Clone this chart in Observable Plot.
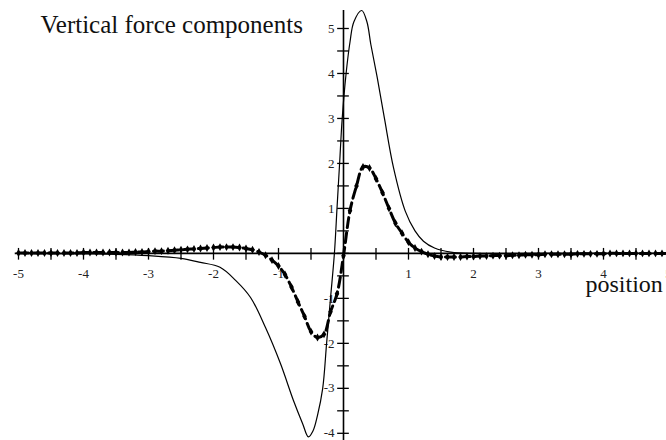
<!DOCTYPE html>
<html>
<head>
<meta charset="utf-8">
<script src="https://cdn.jsdelivr.net/npm/d3@7"></script>
<script src="https://cdn.jsdelivr.net/npm/@observablehq/plot@0.6"></script>
<style>
  html, body { margin: 0; padding: 0; background: #fff; overflow: hidden; }
</style>
</head>
<body>
<div id="chart"></div>
<script>
// Total vertical force (solid curve)
const totalX = [-5, -4, -3.5, -3, -2.5, -2.2, -1.9, -1.66, -1.43, -1.2, -0.97, -0.77, -0.63, -0.54, -0.47, -0.4, -0.32, -0.26, -0.2, -0.14, -0.1, -0.06, -0.02, 0.04, 0.1, 0.16, 0.28, 0.36, 0.42, 0.52, 0.63, 0.77, 0.95, 1.1, 1.23, 1.4, 1.65, 2, 3, 4, 5];
const totalY = [0, -0.01, -0.02, -0.05, -0.11, -0.2, -0.31, -0.6, -0.98, -1.65, -2.45, -3.27, -3.78, -4.08, -3.95, -3.6, -3.0, -2.0, -1.0, 0, 1.0, 2.0, 3.0, 4.0, 4.7, 5.15, 5.4, 5.15, 4.65, 3.9, 3.0, 1.9, 0.94, 0.5, 0.27, 0.12, 0.03, 0, 0, 0, 0];

// Sampled component (dotted curve), one sample every 0.1
const compX = [
  -5.0, -4.9, -4.8, -4.7, -4.6, -4.5, -4.4, -4.3, -4.2, -4.1,
  -4.0, -3.9, -3.8, -3.7, -3.6, -3.5, -3.4, -3.3, -3.2, -3.1,
  -3.0, -2.9, -2.8, -2.7, -2.6, -2.5, -2.4, -2.3, -2.2, -2.1,
  -2.0, -1.9, -1.8, -1.7, -1.6, -1.5, -1.4, -1.3, -1.2, -1.1,
  -1.0, -0.9, -0.8, -0.7, -0.6, -0.5, -0.4, -0.3, -0.2, -0.1,
   0.0,  0.1,  0.2,  0.3,  0.4,  0.5,  0.6,  0.7,  0.8,  0.9,
   1.0,  1.1,  1.2,  1.3,  1.4,  1.5,  1.6,  1.7,  1.8,  1.9,
   2.0,  2.1,  2.2,  2.3,  2.4,  2.5,  2.6,  2.7,  2.8,  2.9,
   3.0,  3.1,  3.2,  3.3,  3.4,  3.5,  3.6,  3.7,  3.8,  3.9,
   4.0,  4.1,  4.2,  4.3,  4.4,  4.5,  4.6,  4.7,  4.8,  4.9,
   5.0
];
const compY = [
  0.01, 0.01, 0.01, 0.01, 0.01, 0.01, 0.01, 0.01, 0.01, 0.01,
  0.02, 0.02, 0.02, 0.02, 0.02, 0.02, 0.02, 0.02, 0.03, 0.03,
  0.04, 0.05, 0.05, 0.06, 0.07, 0.08, 0.09, 0.10, 0.11, 0.12,
  0.13, 0.14, 0.14, 0.14, 0.13, 0.11, 0.08, 0.03, -0.04, -0.15,
  -0.28, -0.47, -0.75, -1.08, -1.40, -1.74, -1.87, -1.80, -1.30, -0.90,
  -0.05, 0.95, 1.50, 1.92, 1.90, 1.66, 1.35, 1.00, 0.67, 0.45,
  0.25, 0.12, 0.04, -0.02, -0.06, -0.08, -0.08, -0.08, -0.08, -0.07,
  -0.07, -0.06, -0.06, -0.05, -0.05, -0.05, -0.04, -0.04, -0.03, -0.03,
  -0.03, -0.02, -0.02, -0.02, -0.02, -0.02, -0.01, -0.01, -0.01, -0.01,
  -0.01, 0, 0, 0, 0, 0, 0, 0, 0, 0,
  0
];

// Axis labelling
const xTickLabels = [-5, -4, -3, -2, -1, 1, 2, 3, 4, 5];
const yTickLabels = [5, 4, 3, 2, 1, -1, -2, -3, -4];
const xTickMarks = d3.range(-5, 5.001, 0.5);
const yTickMarks = d3.range(-4, 5.001, 0.5);
const titleText = "Vertical force components";
const xAxisText = "position";

const total = totalX.map((x, i) => ({x, y: totalY[i]}));
const comp = compX.map((x, i) => ({x, y: compY[i]}));

const serif = "'Liberation Serif', 'Times New Roman', serif";

const chart = Plot.plot({
  width: 666,
  height: 440,
  margin: 0,
  style: {fontFamily: serif, background: "#fff", color: "#000"},
  x: {domain: [-5, 5], range: [18, 668], axis: null},
  y: {domain: [-4.16, 5.4], range: [440, 10], axis: null},
  marks: [
    // axes crossing at the origin
    Plot.ruleY([0], {x1: -5.05, x2: 5, stroke: "#000", strokeWidth: 1.6}),
    Plot.ruleX([0], {y1: -4.16, y2: 5.4, stroke: "#000", strokeWidth: 1.6}),
    Plot.ruleX(xTickMarks, {x: d => d, y1: () => 0.11, y2: () => -0.15, stroke: "#000", strokeWidth: 1.3}),
    Plot.ruleY(yTickMarks, {y: d => d, x1: () => -0.09, x2: () => 0.09, stroke: "#000", strokeWidth: 1.3}),
    Plot.text(xTickLabels, {x: d => d, y: () => 0, dy: 20, text: d => String(d), fontSize: 13, fill: "#222"}),
    Plot.text(yTickLabels, {x: () => 0, y: d => d, dx: -9, textAnchor: "end", text: d => String(d), fontSize: 13, fill: "#222"}),
    // curves
    Plot.line(total, {x: "x", y: "y", curve: "catmull-rom", stroke: "#000", strokeWidth: 1.2}),
    Plot.line(comp, {x: "x", y: "y", curve: "catmull-rom", stroke: "#000", strokeWidth: 3, strokeDasharray: "10,5"}),
    Plot.dot(comp, {x: "x", y: "y", symbol: "diamond", r: 2.4, fill: "#000"}),
    // titles
    Plot.text([titleText], {frameAnchor: "top-left", lineAnchor: "bottom", textAnchor: "start", dx: 40, dy: 32, fontSize: 25, fill: "#111"}),
    Plot.text([xAxisText], {frameAnchor: "top-left", lineAnchor: "bottom", textAnchor: "start", dx: 585, dy: 291, fontSize: 24, fill: "#111"})
  ]
});

document.getElementById("chart").append(chart);
</script>
</body>
</html>
